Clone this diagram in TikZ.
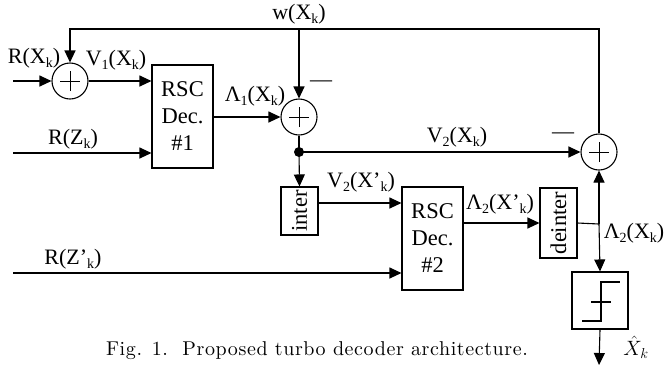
\documentclass[tikz,border=0pt]{standalone}
\usepackage{fontspec}
\usepackage{tikz}
\usetikzlibrary{arrows.meta}
\newfontfamily\lbl{Liberation Serif}
\newfontfamily\capfont{lmroman10-regular}[Extension=.otf, LetterSpace=3]
\newcommand{\lo}[1]{\raisebox{-.45ex}{\fontsize{14}{14}\selectfont #1}}

\tikzset{
	arr/.style = {-{Triangle[length=12pt,width=11pt]}},
	adder/.style = {draw, circle, minimum size=36pt, inner sep=0pt},
	block/.style = {draw, rectangle, inner sep=0pt, align=center, font=\lbl\fontsize{22.5}{27}\selectfont},
	tag/.style = {font=\lbl\fontsize{22}{22}\selectfont, inner sep=1pt}
}

\begin{document}
\begin{tikzpicture}[x=1pt, y=-1pt, line width=1.1pt]
	\useasboundingbox (0,0) rectangle (668,368);
	% adders
	\node [adder] (sumA) at (70,81) {};
	\node [adder] (sumB) at (299,117) {};
	\node [adder] (sumC) at (599,152) {};
	\foreach \s in {sumA,sumB,sumC}
		\draw [line width=0.9pt] ([xshift=-10pt]\s.center) -- ([xshift=10pt]\s.center)
			([yshift=-10pt]\s.center) -- ([yshift=10pt]\s.center);
	% blocks
	\node [block, minimum width=61pt, minimum height=103pt] (decA) at (182.5,116.5) {RSC\\Dec.\\\#1};
	\node [block, minimum width=61pt, minimum height=103pt] (decB) at (432.5,238.5) {RSC\\Dec.\\\#2};
	\node [block, minimum width=37pt, minimum height=48pt] (inter) at (299.5,211) {\rotatebox{90}{inter}};
	\node [block, minimum width=37pt, minimum height=70pt] (deinter) at (558.5,223) {\rotatebox{90}{deinter}};
	\node [block, minimum width=56pt, minimum height=57pt] (slicer) at (600,300.5) {};
	\draw [shift={(slicer.center)}] (-18,20.5) -- (1,20.5) -- (1,-18.5) -- (20,-18.5)
		(-9,1.5) -- (11,1.5);
	\fill (299,152) circle (5pt) coordinate (dot);
	% free ends and corners
	\coordinate (inX) at (13,81);
	\coordinate (inZ) at (13,153);
	\coordinate (inZb) at (13,273);
	\coordinate (topL) at (70,29);
	\coordinate (topM) at (299,29);
	\coordinate (topR) at (599,29);
	\coordinate (split) at (599,224);
	\coordinate (outX) at (599,365);
	% connections
	\draw [arr] (inX) -- (sumA);
	\draw [arr] (sumA.east) -- (sumA.east -| decA.west);
	\draw [arr] (inZ) -- (inZ -| decA.west);
	\draw [arr] (decA.east |- sumB) -- (sumB.west);
	\draw [arr] (sumC.north) -- (topR) -- (topL) -- (sumA.north);
	\draw [arr] (topM) -- (sumB.north);
	\draw (sumB.south) -- (dot);
	\draw [arr] (dot) -- (inter.north);
	\draw [arr] (dot) -- (sumC.west);
	\draw [arr] ([yshift=8pt]inter.east) -- ([yshift=8pt]inter.east -| decB.west);
	\draw [arr] (inZb) -- (inZb -| decB.west);
	\draw [arr] (deinter.west -| decB.east) -- (deinter.west);
	\draw (deinter.east) -- (split);
	\draw [arr] (split) -- (sumC.south);
	\draw [arr] (split) -- (slicer.north);
	\draw [arr] (slicer.south) -- (outX);
	% labels
	\node [tag] (lRX) at (34,58) {R(X\lo{k})};
	\node [tag] (lV1) at (116,60) {V\lo{1}(X\lo{k})};
	\node [tag] (lw) at (299,14) {w(X\lo{k})};
	\node [tag] (mB) at (321,84) {—};
	\node [tag] (lL1) at (255,96) {Λ\lo{1}(X\lo{k})};
	\node [tag] (lRZ) at (73,139) {R(Z\lo{k})};
	\node [tag] (lV2) at (457,137) {V\lo{2}(X\lo{k})};
	\node [tag] (mC) at (563,136) {—};
	\node [tag] (lV2p) at (361,182) {V\lo{2}(X’\lo{k})};
	\node [tag] (lL2p) at (500,204) {Λ\lo{2}(X’\lo{k})};
	\node [tag] (lL2) at (634,233) {Λ\lo{2}(X\lo{k})};
	\node [tag] (lRZp) at (73,259) {R(Z’\lo{k})};
	\node [inner sep=1pt, font=\fontsize{22}{22}\selectfont] (lXh) at (636,347) {$\hat{X}_k$};
	\node [inner sep=0pt, font=\capfont\fontsize{20}{20}\selectfont] (cap) at (317,351) {Fig. 1.\ \ Proposed turbo decoder architecture.};
\end{tikzpicture}
\end{document}
